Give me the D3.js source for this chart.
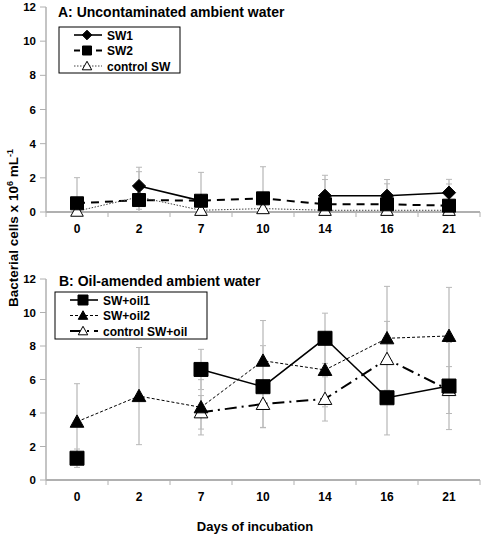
<!DOCTYPE html>
<html><head><meta charset="utf-8">
<script src="https://cdn.jsdelivr.net/npm/d3@7"></script>
<style>body{margin:0;background:#fff;} svg{display:block;font-family:Arial,"Liberation Sans",sans-serif;}</style>
</head><body>
<svg id="c" width="483" height="537"></svg>
<script>
const days = ["0","2","7","10","14","16","21"];
const yTicks = [0,2,4,6,8,10,12];

// Panel A
const sw1     = [null,1.52,0.65,null,0.95,0.95,1.13];
const sw2     = [0.51,0.70,0.66,0.80,0.45,0.45,0.37];
const ctrlSW  = [0.05,0.88,0.10,0.20,0.10,0.10,0.10];
const sw1Err    = [null,1.10,0.30,null,1.20,0.95,0.78];
const sw2Err    = [1.50,1.66,1.66,1.85,1.45,1.20,1.27];
const ctrlSWErr = [0.20,0.72,0.10,0.20,0.10,0.10,0.10];

// Panel B
const oil1    = [1.30,null,6.60,5.57,8.46,4.91,5.61];
const oil2    = [3.48,5.01,4.34,7.12,6.57,8.46,8.60];
const ctrlOil = [null,null,4.04,4.54,4.84,7.22,5.37];
const oil1Err    = [0.55,null,1.20,2.45,1.50,2.22,2.60];
const oil2Err    = [2.27,2.90,1.65,2.40,2.20,3.10,2.90];
const ctrlOilErr = [null,null,1.00,1.40,1.32,2.25,1.40];

const svg = d3.select("#c");
const x = d3.scaleBand().domain(days).range([46,480]).padding(0);
const cx = d => x(d) + x.bandwidth()/2;

function marker(g, type, px, py, s, open){
  let p;
  if(type==="diamond"){ const h=s/2*1.2; p=`M${px},${py-h}L${px+h},${py}L${px},${py+h}L${px-h},${py}Z`; }
  else if(type==="square"){ const h=s/2; p=`M${px-h},${py-h}h${s}v${s}h${-s}Z`; }
  else { const h=s/2; p=`M${px},${py-h*1.05}L${px+h*1.05},${py+h*0.85}L${px-h*1.05},${py+h*0.85}Z`; }
  g.append("path").attr("d",p).attr("fill",open?"#fff":"#000").attr("stroke","#000").attr("stroke-width",open?1:1);
}

function panel(cfg){
  const y = d3.scaleLinear().domain([0,12]).range([cfg.y0,cfg.y12]);
  const g = svg.append("g");
  // y axis
  g.append("line").attr("x1",46).attr("x2",46).attr("y1",y(12)).attr("y2",y(0)).attr("stroke","#b0b0b0").attr("stroke-width",1.5);
  yTicks.forEach(t=>{
    g.append("line").attr("x1",40).attr("x2",46).attr("y1",y(t)).attr("y2",y(t)).attr("stroke","#b0b0b0").attr("stroke-width",1);
    g.append("text").attr("x",36).attr("y",y(t)+4).attr("text-anchor","end").attr("font-size",11.5).attr("font-weight","bold").text(t);
  });
  // x axis
  g.append("line").attr("x1",46).attr("x2",480).attr("y1",y(0)).attr("y2",y(0)).attr("stroke","#b0b0b0").attr("stroke-width",2);
  days.forEach((d,i)=>{
    g.append("line").attr("x1",x(d)).attr("x2",x(d)).attr("y1",y(0)).attr("y2",y(0)+5).attr("stroke","#b0b0b0");
    g.append("text").attr("x",cx(d)).attr("y",y(0)+21).attr("text-anchor","middle").attr("font-size",12).attr("font-weight","bold").text(d);
  });
  g.append("line").attr("x1",480).attr("x2",480).attr("y1",y(0)).attr("y2",y(0)+5).attr("stroke","#b0b0b0");
  // title
  g.append("text").attr("x",cfg.tx).attr("y",cfg.ty).attr("font-size",14).attr("font-weight","bold").text(cfg.title);
  // error bars
  cfg.series.forEach(s=>{
    s.vals.forEach((v,i)=>{
      const e=s.err[i]; if(v==null||e==null) return;
      const px=cx(days[i]); const hi=v+e; const lo=Math.max(0,v-e);
      g.append("line").attr("x1",px).attr("x2",px).attr("y1",y(hi)).attr("y2",y(lo)).attr("stroke","#c4c4c4").attr("stroke-width",1.5);
      g.append("line").attr("x1",px-3).attr("x2",px+3).attr("y1",y(hi)).attr("y2",y(hi)).attr("stroke","#b8b8b8");
      if(v-e>0) g.append("line").attr("x1",px-3).attr("x2",px+3).attr("y1",y(lo)).attr("y2",y(lo)).attr("stroke","#b8b8b8");
    });
  });
  // lines
  const line = d3.line().defined(d=>d.v!=null).x(d=>cx(d.d)).y(d=>y(d.v));
  cfg.series.forEach(s=>{
    g.append("path").datum(s.vals.map((v,i)=>({d:days[i],v})))
      .attr("d",line).attr("fill","none").attr("stroke",s.color||"#000").attr("stroke-width",s.w).attr("stroke-dasharray",s.dash);
  });
  // markers
  cfg.series.slice().reverse().forEach(s=>{
    s.vals.forEach((v,i)=>{ if(v!=null) marker(g,s.shape,cx(days[i]),y(v),s.size,s.open); });
  });
  // legend
  const L=cfg.legend;
  g.append("rect").attr("x",L.x).attr("y",L.y).attr("width",L.w).attr("height",L.h).attr("fill","#fff").attr("stroke","#000").attr("stroke-width",1);
  cfg.series.forEach((s,i)=>{
    const ly=L.y+8+i*15.5;
    g.append("line").attr("x1",L.x+15).attr("x2",L.x+43).attr("y1",ly).attr("y2",ly).attr("stroke",s.color||"#000").attr("stroke-width",s.w).attr("stroke-dasharray",s.ldash||s.dash);
    marker(g,s.shape,L.x+28,ly,s.lsize,s.open);
    g.append("text").attr("x",L.x+48).attr("y",ly+4.5).attr("font-size",12).attr("font-weight","bold").text(s.name);
  });
}

panel({y0:212,y12:7,title:"A: Uncontaminated ambient water",tx:58,ty:17,
  legend:{x:59,y:27,w:121,h:46},
  series:[
    {name:"SW1",vals:sw1,err:sw1Err,shape:"diamond",size:11,lsize:8,w:1.6,dash:null},
    {name:"SW2",vals:sw2,err:sw2Err,shape:"square",size:13,lsize:9,w:2,dash:"8,6",ldash:"6,5"},
    {name:"control SW",vals:ctrlSW,err:ctrlSWErr,shape:"triangle",size:12,lsize:9,open:true,w:1,dash:"1.5,1.5",color:"#444"}
  ]});

panel({y0:480,y12:279,title:"B: Oil-amended ambient water",tx:59,ty:286,
  legend:{x:55,y:292,w:152,h:47},
  series:[
    {name:"SW+oil1",vals:oil1,err:oil1Err,shape:"square",size:14,lsize:10,w:1.6,dash:null},
    {name:"SW+oil2",vals:oil2,err:oil2Err,shape:"triangle",size:13,lsize:9,w:1,dash:"3,2"},
    {name:"control SW+oil",vals:ctrlOil,err:ctrlOilErr,shape:"triangle",size:13,lsize:9,open:true,w:2,dash:"12,5,2,5",ldash:"12,5,2,5"}
  ]});

// axis titles
svg.append("text").attr("x",255).attr("y",531).attr("text-anchor","middle").attr("font-size",13).attr("font-weight","bold").text("Days of incubation");
const yt = svg.append("text").attr("transform","translate(18,228) rotate(-90)").attr("text-anchor","middle").attr("font-size",13.5).attr("font-weight","bold");
yt.append("tspan").text("Bacterial cells  x 10");
yt.append("tspan").attr("font-size",9).attr("dy",-5).text("6");
yt.append("tspan").attr("dy",5).text(" mL");
yt.append("tspan").attr("font-size",9).attr("dy",-5).text("-1");
</script>
</body></html>
